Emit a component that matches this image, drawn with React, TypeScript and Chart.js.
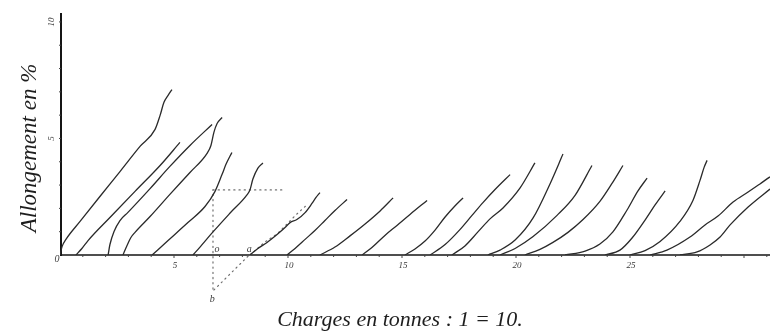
import React, { useEffect, useRef } from "react";
import { Chart, registerables } from "chart.js";

Chart.register(...registerables);

// Each curve: [charge (unit = 10 t), allongement %]
const curve01 = [[0, 0], [0.09, 0.36], [0.26, 0.67], [0.88, 1.44], [1.75, 2.51], [2.63, 3.58], [3.51, 4.66], [4.17, 5.39], [4.39, 5.99], [4.56, 6.55], [4.74, 6.85], [4.91, 7.1]];
const curve02 = [[0.7, 0], [0.96, 0.28], [1.23, 0.62], [2.19, 1.61], [3.29, 2.73], [4.39, 3.84], [5.26, 4.83]];
const curve03 = [[2.11, 0], [2.19, 0.45], [2.37, 1.01], [2.63, 1.48], [2.98, 1.83], [3.95, 2.85], [4.82, 3.8], [5.7, 4.7], [6.67, 5.6]];
const curve04 = [[2.76, 0], [2.94, 0.41], [3.11, 0.75], [3.29, 0.97], [3.95, 1.65], [4.82, 2.6], [5.7, 3.54], [6.45, 4.36], [6.62, 4.7], [6.75, 5.26], [6.89, 5.64], [7.11, 5.9]];
const curve05 = [[4.04, 0], [4.74, 0.62], [5.61, 1.39], [6.36, 2.08], [6.8, 2.73], [7.11, 3.46], [7.28, 3.89], [7.54, 4.4]];
const curve06 = [[5.83, 0], [6.14, 0.34], [6.71, 0.99], [7.46, 1.8], [8.2, 2.58], [8.33, 2.79], [8.46, 3.26], [8.68, 3.73], [8.9, 3.95]];
const curve07 = [[8.33, 0], [8.68, 0.28], [9.08, 0.54], [9.52, 0.88], [9.87, 1.18], [10.09, 1.39], [10.39, 1.52], [10.75, 1.82], [11.05, 2.21], [11.23, 2.47], [11.4, 2.68]];
const curve08 = [[9.96, 0], [10.31, 0.28], [10.75, 0.67], [11.18, 1.05], [11.62, 1.48], [12.06, 1.91], [12.59, 2.38]];
const curve09 = [[11.4, 0], [12.06, 0.34], [12.72, 0.82], [13.38, 1.33], [14.04, 1.89], [14.61, 2.45]];
const curve10 = [[13.25, 0], [13.68, 0.32], [14.25, 0.84], [14.78, 1.27], [15.35, 1.74], [16.1, 2.34]];
const curve11 = [[15.13, 0], [15.57, 0.26], [16.01, 0.6], [16.45, 1.07], [16.89, 1.63], [17.32, 2.1], [17.68, 2.45]];
const curve12 = [[16.23, 0], [16.89, 0.45], [17.54, 1.09], [18.07, 1.7], [18.55, 2.25], [19.08, 2.81], [19.74, 3.45]];
const curve13 = [[17.19, 0], [17.76, 0.39], [18.33, 0.99], [18.86, 1.55], [19.43, 2.02], [20.18, 2.88], [20.83, 3.95]];
const curve14 = [[18.77, 0], [19.3, 0.21], [19.96, 0.64], [20.75, 1.59], [21.49, 3.05], [22.06, 4.33]];
const curve15 = [[19.3, 0], [19.96, 0.28], [20.75, 0.79], [21.8, 1.7], [22.59, 2.56], [23.33, 3.84]];
const curve16 = [[20.39, 0], [21.05, 0.24], [21.62, 0.54], [22.28, 0.97], [22.94, 1.52], [23.68, 2.3], [24.21, 3.07], [24.69, 3.84]];
const curve17 = [[22.15, 0], [23.03, 0.17], [23.68, 0.47], [24.25, 0.99], [24.87, 1.93], [25.35, 2.75], [25.75, 3.3]];
const curve18 = [[23.9, 0], [24.56, 0.21], [25.09, 0.73], [25.66, 1.5], [26.1, 2.15], [26.54, 2.75]];
const curve19 = [[25.0, 0], [25.66, 0.19], [26.32, 0.58], [27.19, 1.44], [27.76, 2.34], [28.07, 3.2], [28.25, 3.76], [28.38, 4.06]];
const curve20 = [[25.88, 0], [26.62, 0.21], [27.63, 0.77], [28.29, 1.29], [28.86, 1.67], [29.52, 2.27], [30.18, 2.7], [30.7, 3.05], [31.14, 3.35], [31.58, 3.6]];
const curve21 = [[27.19, 0], [27.94, 0.13], [28.51, 0.43], [28.95, 0.77], [29.39, 1.29], [30.18, 2.06], [31.14, 2.83], [31.58, 3.18]];

// dotted construction lines (o, a, b)
const dottedVertical = [[6.71, -1.46], [6.71, 2.79]];
const dottedHorizontal = [[6.71, 2.79], [9.87, 2.79]];
const dottedDiagonal = [[6.75, -1.5], [8.3, 0]];
const dottedAlongA = [[8.33, 0], [8.99, 0.56], [9.52, 0.9], [10.39, 1.76], [10.83, 2.15]];

const pointLabelTexts = ["o", "a", "b"];
const pointLabelX = [6.89, 8.3, 6.68];
const pointLabelY = [0.26, 0.26, -1.9];

const xTickValues = [5, 10, 15, 20, 25];
const xTickLabels = ["5", "10", "15", "20", "25"];
const yTickValues = [5, 10];
const yTickLabels = ["5", "10"];
const originLabel = "0";

const xTitle = "Charges en tonnes : 1 = 10.";
const yTitle = "Allongement en %";

const X_MAX = 31.14;
const Y_MAX = 10.34;

const curves = [curve01, curve02, curve03, curve04, curve05, curve06, curve07, curve08, curve09, curve10, curve11, curve12, curve13, curve14, curve15, curve16, curve17, curve18, curve19, curve20, curve21];
const dotted = [dottedVertical, dottedHorizontal, dottedDiagonal, dottedAlongA];

const toXY = (pts: number[][]) => pts.map(([x, y]) => ({ x, y }));

const oldAxesPlugin = {
  id: "oldAxes",
  beforeDraw(chart: any) {
    const ctx = chart.ctx;
    ctx.save();
    ctx.fillStyle = "#ffffff";
    ctx.fillRect(0, 0, chart.width, chart.height);
    ctx.restore();
  },
  beforeDatasetsDraw(chart: any) {
    const ctx = chart.ctx;
    const xs = chart.scales.x;
    const ys = chart.scales.y;
    const x0 = xs.getPixelForValue(0);
    const y0 = ys.getPixelForValue(0);
    const area = chart.chartArea;
    ctx.save();
    ctx.strokeStyle = "#151515";
    ctx.lineCap = "butt";
    ctx.lineWidth = 2;
    ctx.beginPath();
    ctx.moveTo(x0 + 1, area.top - 1);
    ctx.lineTo(x0 + 1, y0 + 1);
    ctx.stroke();
    ctx.lineWidth = 1.7;
    ctx.beginPath();
    ctx.moveTo(x0, y0);
    ctx.lineTo(area.right, y0);
    ctx.stroke();
    ctx.lineWidth = 1;
    ctx.strokeStyle = "#444";
    for (let v = 1; v <= 10; v++) {
      const p = ys.getPixelForValue(v);
      ctx.beginPath();
      ctx.moveTo(x0 - 1, p);
      ctx.lineTo(x0 + 1, p);
      ctx.stroke();
    }
    for (let v = 1; v <= 31; v++) {
      const p = xs.getPixelForValue(v);
      ctx.beginPath();
      ctx.moveTo(p, y0);
      ctx.lineTo(p, y0 + (v % 5 === 0 ? 3 : 2));
      ctx.stroke();
    }
    ctx.restore();
  },
  afterDraw(chart: any) {
    const ctx = chart.ctx;
    const xs = chart.scales.x;
    const ys = chart.scales.y;
    const x0 = xs.getPixelForValue(0);
    const y0 = ys.getPixelForValue(0);
    ctx.save();
    ctx.fillStyle = "#3a3a3a";
    ctx.textAlign = "center";
    ctx.textBaseline = "middle";
    ctx.font = 'italic 9px "Liberation Serif"';
    xTickValues.forEach((v, i) => {
      ctx.fillText(xTickLabels[i], xs.getPixelForValue(v) + 1, y0 + 11);
    });
    yTickValues.forEach((v, i) => {
      ctx.save();
      ctx.translate(x0 - 8, ys.getPixelForValue(v));
      ctx.rotate(-Math.PI / 2);
      ctx.fillText(yTickLabels[i], 0, 0);
      ctx.restore();
    });
    ctx.font = 'italic 10px "Liberation Serif"';
    ctx.fillText(originLabel, x0 - 3, y0 + 4);
    pointLabelTexts.forEach((t, i) => {
      ctx.fillText(t, xs.getPixelForValue(pointLabelX[i]), ys.getPixelForValue(pointLabelY[i]));
    });
    ctx.fillStyle = "#1e1e1e";
    ctx.font = 'italic 23px "Liberation Serif"';
    ctx.save();
    ctx.translate(30, 148);
    ctx.rotate(-Math.PI / 2);
    ctx.fillText(yTitle, 0, 0);
    ctx.restore();
    ctx.font = 'italic 22px "Liberation Serif"';
    ctx.fillText(xTitle, 400, 320);
    ctx.restore();
  },
};

export default function App() {
  const ref = useRef<HTMLCanvasElement | null>(null);
  useEffect(() => {
    if (!ref.current) return;
    const datasets: any[] = curves.map((c) => ({
      data: toXY(c),
      borderColor: "#2a2a2a",
      borderWidth: 1.3,
      pointRadius: 0,
      fill: false,
      cubicInterpolationMode: "monotone",
    }));
    dotted.forEach((d) => {
      datasets.push({
        data: toXY(d),
        borderColor: "#707070",
        borderWidth: 1.2,
        borderDash: [1.2, 4],
        borderCapStyle: "round",
        pointRadius: 0,
        fill: false,
        clip: false,
        tension: 0,
      });
    });
    const chart = new Chart(ref.current, {
      type: "line",
      data: { datasets },
      options: {
        animation: false,
        responsive: false,
        devicePixelRatio: 1,
        layout: { padding: { left: 60, right: 0, top: 14, bottom: 78 } },
        scales: {
          x: { type: "linear", min: 0, max: X_MAX, display: false },
          y: { type: "linear", min: 0, max: Y_MAX, display: false },
        },
        plugins: {
          legend: { display: false },
          tooltip: { enabled: false },
        },
        elements: { line: { borderJoinStyle: "round" } },
      },
      plugins: [oldAxesPlugin],
    });
    return () => chart.destroy();
  }, []);
  return (
    <div style={{ position: "absolute", left: 0, top: 0, width: 770, height: 333, background: "#fff" }}>
      <canvas ref={ref} width={770} height={333} style={{ width: 770, height: 333, display: "block" }} />
    </div>
  );
}
